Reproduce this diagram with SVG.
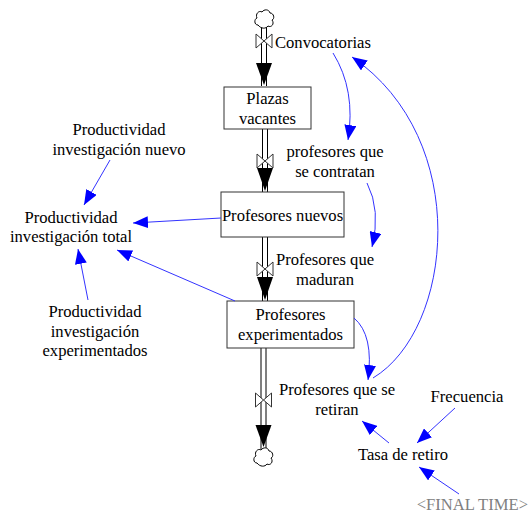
<svg xmlns="http://www.w3.org/2000/svg" width="530" height="514" viewBox="0 0 530 514" font-family="'Liberation Serif', 'Times New Roman', 'DejaVu Serif', serif">
<defs>
<marker id="ah" markerUnits="userSpaceOnUse" markerWidth="16" markerHeight="12" refX="15" refY="6" orient="auto">
<path d="M0,0 L15,6 L0,12 Z" fill="#0000ff"/>
</marker>
<symbol id="cloud" overflow="visible">
<path d="M-6,6 C-10,6 -10,0 -7,-1 C-9,-5 -5,-9 -2,-7 C0,-10 5,-10 6,-6 C10,-6 11,0 8,1 C11,5 7,9 4,7 C2,10 -3,10 -6,6 Z" fill="#fff" stroke="#000" stroke-width="1"/>
</symbol>
<symbol id="valve" overflow="visible">
<path d="M-8,-7 L0,0 L8,-7 L8,7 L0,0 L-8,7 Z" fill="#fff" stroke="#333" stroke-width="1"/>
</symbol>
</defs>
<style>
text{font-family:'Liberation Serif','Times New Roman','DejaVu Serif',serif;font-size:16.6px;fill:#000;text-anchor:middle}
.box{fill:#fff;stroke:#333;stroke-width:1}
.pipe{stroke:#000;stroke-width:1;fill:none}
.inf{stroke:#3333ff;stroke-width:1;fill:none;marker-end:url(#ah)}
.fh{fill:#000}
</style>
<g id="flows">
<line class="pipe" x1="261.5" y1="27" x2="261.5" y2="86"/>
<line class="pipe" x1="266.5" y1="27" x2="266.5" y2="86"/>
<polygon class="fh" points="256,63 272,63 264,85"/>
<line class="pipe" x1="262.5" y1="129" x2="262.5" y2="192"/>
<line class="pipe" x1="267.5" y1="129" x2="267.5" y2="192"/>
<polygon class="fh" points="257,168 273,168 265,191"/>
<line class="pipe" x1="262.5" y1="237" x2="262.5" y2="301"/>
<line class="pipe" x1="267.5" y1="237" x2="267.5" y2="301"/>
<polygon class="fh" points="257,277 273,277 265,300"/>
<line class="pipe" x1="261" y1="348" x2="261" y2="449"/>
<line class="pipe" x1="266" y1="348" x2="266" y2="449"/>
<polygon class="fh" points="255.5,425 271.5,425 263.5,447"/>
</g>
<g id="cloud-top"><use href="#cloud" x="264" y="19"/></g>
<g id="cloud-bottom"><use href="#cloud" x="263" y="457"/></g>
<g id="Convocatorias">
<use href="#valve" x="264" y="41"/>
<text x="275" y="48" style="text-anchor:start">Convocatorias</text>
</g>
<g id="Plazas_vacantes">
<rect class="box" x="224" y="87" width="87" height="42"/>
<text x="267.5" y="104">Plazas</text>
<text x="267.5" y="124">vacantes</text>
</g>
<g id="profesores_que_se_contratan">
<use href="#valve" x="265" y="161"/>
<text x="335" y="157">profesores que</text>
<text x="335" y="177">se contratan</text>
</g>
<g id="Profesores_nuevos">
<rect class="box" x="221" y="192" width="123" height="45"/>
<text x="282.5" y="221">Profesores nuevos</text>
</g>
<g id="Profesores_que_maduran">
<use href="#valve" x="265" y="269"/>
<text x="325" y="265">Profesores que</text>
<text x="325" y="285">maduran</text>
</g>
<g id="Profesores_experimentados">
<rect class="box" x="227" y="301" width="127" height="47"/>
<text x="290.5" y="320">Profesores</text>
<text x="290.5" y="340">experimentados</text>
</g>
<g id="Profesores_que_se_retiran">
<use href="#valve" x="263.5" y="400"/>
<text x="337" y="395">Profesores que se</text>
<text x="337" y="415">retiran</text>
</g>
<g id="Frecuencia"><text x="467" y="402">Frecuencia</text></g>
<g id="Tasa_de_retiro"><text x="403" y="460">Tasa de retiro</text></g>
<g id="FINAL_TIME"><text x="528" y="510" style="fill:#808080;text-anchor:end">&lt;FINAL TIME&gt;</text></g>
<g id="PI_nuevo">
<text x="119" y="135">Productividad</text>
<text x="119" y="155">investigación nuevo</text>
</g>
<g id="PI_total">
<text x="71" y="223">Productividad</text>
<text x="71" y="242">investigación total</text>
</g>
<g id="PI_experimentados">
<text x="95" y="317">Productividad</text>
<text x="95" y="337">investigación</text>
<text x="95" y="356">experimentados</text>
</g>
<g id="connectors">
<path class="inf" d="M110,160 L84,205"/>
<path class="inf" d="M88,300 L78,249"/>
<path class="inf" d="M221,218 L133,223"/>
<path class="inf" d="M235,301 L117,250"/>
<path class="inf" d="M333,53 Q356,90 348,140"/>
<path class="inf" d="M367,183 Q381,210 372,247"/>
<path class="inf" d="M354,318 Q374,335 368,380"/>
<path class="inf" d="M373,378 C453,330 473,140 352,57"/>
<path class="inf" d="M455,408 L417,443"/>
<path class="inf" d="M459,494 L419,467"/>
<path class="inf" d="M389,443 L362,421"/>
</g>
</svg>
